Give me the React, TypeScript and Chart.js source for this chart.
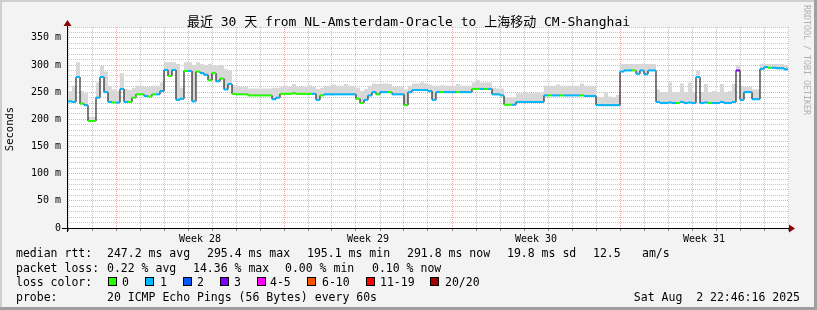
import { useEffect, useRef } from "react";
import { Chart, registerables } from "chart.js";

Chart.register(...registerables);

// ---------- data ----------
const STEPS_PER_DAY = 6; // one value per 4 hours
const DAYS = 30;

// median round-trip time, ms (one value per step)
const medianRtt = [
  233, 232, 278, 229, 226, 197, 197, 240, 278, 250,
  232, 231, 231, 256, 232, 232, 240, 246, 246, 243,
  242, 246, 246, 252, 291, 280, 291, 236, 238, 289,
  289, 233, 288, 285, 282, 272, 285, 270, 275, 255,
  265, 247, 246, 246, 246, 244, 244, 244, 244, 244,
  244, 237, 240, 247, 247, 247, 248, 247, 247, 247,
  247, 247, 236, 244, 246, 246, 246, 246, 246, 246,
  246, 246, 238, 230, 236, 244, 250, 246, 250, 250,
  250, 246, 246, 246, 226, 250, 254, 254, 254, 254,
  252, 236, 250, 250, 250, 250, 250, 250, 250, 250,
  250, 256, 256, 256, 256, 256, 246, 246, 244, 227,
  227, 227, 232, 232, 232, 232, 232, 232, 232, 244,
  244, 244, 244, 244, 244, 244, 244, 244, 244, 243,
  243, 243, 226, 226, 226, 226, 226, 226, 288, 290,
  290, 290, 284, 290, 283, 290, 290, 232, 230, 230,
  231, 230, 230, 232, 230, 231, 230, 278, 230, 231,
  230, 230, 230, 232, 230, 230, 232, 290, 236, 250,
  250, 237, 237, 293, 296, 295, 295, 294, 294, 292,
];

// upper edge of the ping "smoke", ms
const smokeMax = [
  252, 262, 305, 252, 248, 205, 205, 268, 298, 288,
  262, 255, 252, 285, 256, 254, 258, 262, 262, 260,
  260, 262, 262, 268, 305, 305, 305, 302, 258, 305,
  305, 300, 305, 302, 300, 302, 300, 298, 300, 292,
  290, 263, 261, 260, 260, 257, 257, 257, 257, 257,
  257, 258, 258, 260, 262, 260, 265, 260, 262, 260,
  263, 260, 256, 258, 262, 262, 264, 262, 262, 265,
  262, 262, 258, 252, 256, 262, 266, 265, 266, 266,
  265, 260, 260, 260, 255, 262, 266, 266, 268, 266,
  264, 262, 262, 263, 262, 262, 262, 265, 262, 262,
  262, 268, 272, 268, 268, 268, 258, 257, 257, 240,
  240, 240, 248, 248, 250, 248, 248, 250, 248, 262,
  262, 262, 264, 262, 262, 262, 262, 262, 266, 262,
  262, 262, 240, 240, 250, 242, 240, 245, 302, 302,
  302, 302, 302, 302, 302, 302, 302, 255, 250, 250,
  268, 250, 250, 266, 250, 268, 250, 290, 250, 265,
  250, 252, 250, 265, 250, 252, 265, 300, 262, 260,
  260, 255, 255, 302, 302, 302, 302, 302, 302, 300,
];

// loss class per step (index into lossLabels)
const lossClass = [
  1, 1, 1, 0, 1, 0, 0, 1, 1, 1,
  1, 0, 1, 1, 1, 0, 0, 0, 0, 1,
  0, 0, 1, 1, 1, 0, 1, 1, 1, 0,
  1, 1, 0, 1, 1, 0, 0, 1, 0, 1,
  1, 0, 0, 0, 0, 0, 0, 0, 0, 0,
  0, 1, 1, 0, 0, 0, 0, 0, 0, 0,
  0, 1, 1, 0, 1, 1, 1, 1, 1, 1,
  1, 1, 0, 0, 1, 1, 1, 0, 1, 1,
  0, 1, 1, 1, 0, 1, 1, 1, 1, 1,
  1, 1, 1, 0, 1, 1, 1, 0, 1, 1,
  1, 0, 0, 1, 0, 1, 1, 1, 1, 0,
  0, 1, 1, 1, 1, 1, 1, 1, 1, 1,
  0, 1, 1, 0, 1, 1, 1, 1, 0, 1,
  1, 1, 1, 1, 1, 1, 1, 1, 1, 1,
  1, 0, 1, 1, 1, 1, 1, 1, 1, 1,
  1, 1, 0, 1, 1, 1, 1, 1, 1, 1,
  0, 1, 1, 1, 1, 1, 1, 3, 1, 1,
  1, 1, 1, 1, 1, 0, 1, 1, 1, 1,
];

const lossLabels = ["0", "1", "2", "3", "4-5", "6-10", "11-19", "20/20"];
const lossColors = ["#26ff00", "#00b8ff", "#0059ff", "#7e00ff", "#ff00ff", "#ff5500", "#ff0000", "#a10000"];

const weekLabels = ["Week 28", "Week 29", "Week 30", "Week 31"];
const weekStartDays = [2, 9, 16, 23];

const Y_MAX = 370;
const Y_MINOR = 10;
const Y_MAJOR = 50;

const titleText = "最近 30 天 from NL-Amsterdam-Oracle to 上海移动 CM-Shanghai";
const yTitle = "Seconds";
const watermark = "RRDTOOL / TOBI OETIKER";
const rttRow = ["median rtt:", "247.2 ms avg", "295.4 ms max", "195.1 ms min", "291.8 ms now", "19.8 ms sd", "12.5", "am/s"];
const lossRow = ["packet loss:", "0.22 % avg", "14.36 % max", "0.00 % min", "0.10 % now"];
const lossColorTitle = "loss color:";
const probeRow = ["probe:", "20 ICMP Echo Pings (56 Bytes) every 60s"];
const dateText = "Sat Aug  2 22:46:16 2025";

// ---------- layout (positions / styles) ----------
const W = 817;
const H = 310;
const MONO = '"DejaVu Sans Mono", "Noto Sans CJK SC", monospace';
const rttX = [16, 107, 207, 307, 407, 507, 593, 642];
const lossX = [16, 107, 193, 285, 372];
const boxX = [108, 145, 183, 220, 257, 307, 366, 430];
const boxLabelX = [122, 160, 197, 234, 270, 322, 380, 445];
const rowY = [257, 271.5, 286, 300.5];

const stepX = (i: number) => i / STEPS_PER_DAY;

const medianPts = medianRtt.map((v, i) => ({ x: stepX(i), y: v }));
medianPts.push({ x: DAYS, y: medianRtt[medianRtt.length - 1] });
const smokePts = smokeMax.map((v, i) => ({ x: stepX(i), y: v }));
smokePts.push({ x: DAYS, y: smokeMax[smokeMax.length - 1] });
const dashPts = medianRtt.map((v, i) => ({ x: stepX(i + 0.5), y: v }));
const dashColors = lossClass.map((c) => lossColors[c]);

const isInt = (v: number) => Math.abs(v - Math.round(v)) < 1e-6;

const rrdPlugin = {
  id: "rrdFrame",
  beforeDraw(chart: any) {
    const { ctx, chartArea: a } = chart;
    ctx.save();
    ctx.fillStyle = "#f3f3f3";
    ctx.fillRect(0, 0, W, H);
    ctx.fillStyle = "#cfcfcf";
    ctx.fillRect(0, 0, W, 2);
    ctx.fillRect(0, 0, 2, H);
    ctx.fillStyle = "#9f9f9f";
    ctx.fillRect(0, H - 3, W, 3);
    ctx.fillRect(W - 3, 0, 3, H);
    ctx.fillStyle = "#ffffff";
    ctx.fillRect(a.left, a.top, a.right - a.left, a.bottom - a.top);
    ctx.restore();
  },
  afterDraw(chart: any) {
    const { ctx, chartArea: a } = chart;
    ctx.save();
    // axes
    ctx.strokeStyle = "#000";
    ctx.lineWidth = 1;
    ctx.beginPath();
    ctx.moveTo(a.left - 5, a.bottom + 0.5);
    ctx.lineTo(a.right + 1, a.bottom + 0.5);
    ctx.moveTo(a.left + 0.5, a.bottom + 4);
    ctx.lineTo(a.left + 0.5, a.top - 1);
    ctx.stroke();
    ctx.fillStyle = "#8b0000";
    ctx.beginPath();
    ctx.moveTo(a.right, a.bottom - 3.5);
    ctx.lineTo(a.right + 6, a.bottom + 0.5);
    ctx.lineTo(a.right, a.bottom + 4.5);
    ctx.closePath();
    ctx.fill();
    ctx.beginPath();
    ctx.moveTo(a.left - 3.5, a.top - 1);
    ctx.lineTo(a.left + 0.5, a.top - 7);
    ctx.lineTo(a.left + 4.5, a.top - 1);
    ctx.closePath();
    ctx.fill();

    // title
    ctx.fillStyle = "#000";
    ctx.font = `13px ${MONO}`;
    ctx.textAlign = "center";
    ctx.textBaseline = "alphabetic";
    ctx.fillText(titleText, 408.5, 26);

    // y title
    ctx.save();
    ctx.translate(10.5, 129);
    ctx.rotate(-Math.PI / 2);
    ctx.font = `10.5px ${MONO}`;
    ctx.textBaseline = "middle";
    ctx.fillText(yTitle, 0, 0);
    ctx.restore();

    // watermark
    ctx.save();
    ctx.translate(806.5, 5);
    ctx.rotate(Math.PI / 2);
    ctx.font = `8.3px ${MONO}`;
    ctx.textAlign = "left";
    ctx.textBaseline = "middle";
    ctx.fillStyle = "#b0b0b0";
    ctx.fillText(watermark, 0, 0);
    ctx.restore();

    // legend
    ctx.font = `11.5px ${MONO}`;
    ctx.textAlign = "left";
    ctx.textBaseline = "alphabetic";
    ctx.fillStyle = "#000";
    rttRow.forEach((t, k) => ctx.fillText(t, rttX[k], rowY[0]));
    lossRow.forEach((t, k) => ctx.fillText(t, lossX[k], rowY[1]));
    ctx.fillText(lossColorTitle, 16, rowY[2]);
    lossLabels.forEach((t, k) => {
      ctx.fillStyle = "#000";
      ctx.fillRect(boxX[k], rowY[2] - 9, 9, 9);
      ctx.fillStyle = lossColors[k];
      ctx.fillRect(boxX[k] + 1, rowY[2] - 8, 7, 7);
      ctx.fillStyle = "#000";
      ctx.fillText(t, boxLabelX[k], rowY[2]);
    });
    ctx.fillText(probeRow[0], 16, rowY[3]);
    ctx.fillText(probeRow[1], 107, rowY[3]);
    ctx.textAlign = "right";
    ctx.fillText(dateText, 800, rowY[3]);
    ctx.restore();
  },
};

export default function App() {
  const ref = useRef<HTMLCanvasElement>(null);
  useEffect(() => {
    document.body.style.margin = "0";
    const canvas = ref.current;
    if (!canvas) return;
    Chart.defaults.font.family = MONO;
    const chart = new Chart(canvas, {
      type: "line",
      data: {
        datasets: [
          {
            label: "median",
            data: medianPts,
            stepped: "before",
            borderColor: "#000",
            borderWidth: 1,
            pointRadius: 0,
            fill: false,
            order: 2,
          },
          {
            label: "smoke",
            data: smokePts,
            stepped: "before",
            borderWidth: 0,
            borderColor: "rgba(0,0,0,0)",
            backgroundColor: "#d8d8d8",
            pointRadius: 0,
            fill: 0,
            order: 3,
          },
          {
            label: "loss",
            data: dashPts,
            showLine: false,
            pointStyle: "line",
            pointRadius: 2,
            pointBorderWidth: 2,
            pointBorderColor: dashColors,
            pointBackgroundColor: dashColors,
            order: 1,
          },
        ] as any,
      },
      options: {
        responsive: false,
        devicePixelRatio: 1,
        animation: false,
        events: [],
        layout: { padding: { top: 27, right: W - 789, left: 0, bottom: 0 } },
        plugins: { legend: { display: false }, tooltip: { enabled: false } },
        scales: {
          x: {
            type: "linear",
            min: -1 / 24,
            max: DAYS + 1 / 24,
            afterFit: (s: any) => {
              s.height = H - 228;
            },
            border: { display: false, dash: [1, 1] },
            grid: {
              color: (c: any) => {
                const v = c.tick.value;
                if (!isInt(v)) return "rgba(0,0,0,0)";
                return weekStartDays.includes(Math.round(v)) ? "rgba(235,90,90,0.55)" : "rgba(150,150,150,0.55)";
              },
              tickColor: (c: any) => (isInt(c.tick.value) ? "rgba(0,0,0,0.45)" : "rgba(0,0,0,0)"),
              drawTicks: true,
              tickLength: 3,
            },
            ticks: {
              stepSize: 0.5,
              includeBounds: false,
              autoSkip: false,
              maxRotation: 0,
              padding: 2,
              color: "#000",
              font: { size: 10, family: MONO },
              callback: (v: any) => {
                const n = Number(v);
                const k = weekStartDays.findIndex((s) => Math.abs(s + 3.5 - n) < 1e-6);
                return k >= 0 ? weekLabels[k] : "";
              },
            },
          },
          y: {
            min: 0,
            max: Y_MAX,
            afterFit: (s: any) => {
              s.width = 67;
            },
            border: { display: false, dash: [1, 1] },
            grid: {
              color: (c: any) => (c.tick.value % Y_MAJOR === 0 ? "rgba(235,90,90,0.55)" : "rgba(150,150,150,0.55)"),
              drawTicks: false,
            },
            ticks: {
              stepSize: Y_MINOR,
              autoSkip: false,
              padding: 6,
              color: "#000",
              font: { size: 10, family: MONO },
              callback: (v: any) => {
                const n = Number(v);
                if (n % Y_MAJOR !== 0) return "";
                return n === 0 ? "0" : `${n} m`;
              },
            },
          },
        },
      } as any,
      plugins: [rrdPlugin],
    });
    return () => chart.destroy();
  }, []);
  return <canvas ref={ref} width={W} height={H} style={{ display: "block", width: W, height: H }} />;
}
